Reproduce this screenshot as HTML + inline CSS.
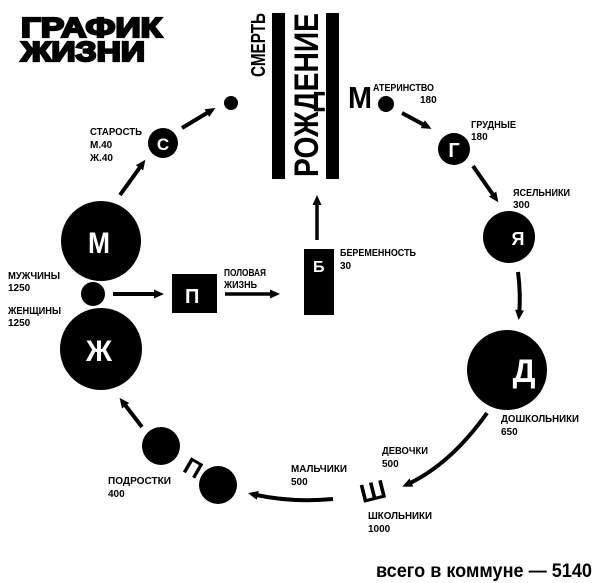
<!DOCTYPE html>
<html><head><meta charset="utf-8"><style>
html,body{margin:0;padding:0;background:#fff;}
svg{display:block;}
text{font-family:"Liberation Sans","DejaVu Sans",sans-serif;font-weight:bold;fill:#000;}
.l{font-size:10px;}
.w{fill:#fff;}
</style></head><body>
<svg width="600" height="583" viewBox="0 0 600 583" xmlns="http://www.w3.org/2000/svg">
<defs>
<marker id="a" markerWidth="10" markerHeight="10" refX="6" refY="5" orient="auto" markerUnits="userSpaceOnUse" viewBox="0 0 10 10">
<path d="M0,0.5 L10,5 L0,9.5 Z" fill="#000"/>
</marker>
</defs>

<!-- title -->
<text x="21" y="37" font-size="28" font-weight="900" textLength="141" lengthAdjust="spacingAndGlyphs" stroke="#000" stroke-width="2.2">ГРАФИК</text>
<text x="21" y="61" font-size="28" font-weight="900" textLength="124" lengthAdjust="spacingAndGlyphs" stroke="#000" stroke-width="2.2">ЖИЗНИ</text>

<!-- bars -->
<rect x="272" y="13" width="13" height="166" fill="#000"/>
<rect x="326" y="13" width="13" height="166" fill="#000"/>
<text transform="translate(318,177) rotate(-90)" font-size="34" textLength="164" lengthAdjust="spacingAndGlyphs">РОЖДЕНИЕ</text>
<text transform="translate(265,77) rotate(-90)" font-size="20" textLength="64" lengthAdjust="spacingAndGlyphs">СМЕРТЬ</text>

<circle cx="231" cy="103" r="7"/>
<line x1="182" y1="128" x2="212" y2="110" stroke="#000" stroke-width="4" marker-end="url(#a)"/>
<circle cx="163" cy="143" r="15"/>
<text x="163" y="150" font-size="17" class="w" text-anchor="middle">С</text>
<text x="90" y="135" class="l" textLength="52" lengthAdjust="spacingAndGlyphs">СТАРОСТЬ</text>
<text x="90" y="148" class="l">М.40</text>
<text x="90" y="161" class="l">Ж.40</text>
<line x1="120" y1="195" x2="143" y2="163" stroke="#000" stroke-width="4" marker-end="url(#a)"/>

<text x="348" y="108" font-size="31" textLength="24" lengthAdjust="spacingAndGlyphs">М</text>
<circle cx="386" cy="104" r="8"/>
<text x="373" y="91" class="l" textLength="61" lengthAdjust="spacingAndGlyphs">АТЕРИНСТВО</text>
<text x="420" y="103" class="l">180</text>
<line x1="402" y1="113" x2="428" y2="127" stroke="#000" stroke-width="4" marker-end="url(#a)"/>

<circle cx="454" cy="149" r="16"/>
<text x="454" y="157" font-size="20" class="w" text-anchor="middle">Г</text>
<text x="471" y="128" class="l" textLength="45" lengthAdjust="spacingAndGlyphs">ГРУДНЫЕ</text>
<text x="471" y="140" class="l">180</text>
<line x1="473" y1="166" x2="496" y2="199" stroke="#000" stroke-width="4" marker-end="url(#a)"/>

<text x="513" y="196" class="l" textLength="57" lengthAdjust="spacingAndGlyphs">ЯСЕЛЬНИКИ</text>
<text x="513" y="208" class="l">300</text>
<circle cx="509" cy="237" r="26"/>
<text x="518" y="245" font-size="18" class="w" text-anchor="middle">Я</text>
<path d="M518,272 Q521,295 519,316" fill="none" stroke="#000" stroke-width="4" marker-end="url(#a)"/>

<circle cx="507" cy="370" r="40"/>
<text x="524" y="382" font-size="32" class="w" text-anchor="middle">Д</text>
<text x="501" y="422" class="l" textLength="78" lengthAdjust="spacingAndGlyphs">ДОШКОЛЬНИКИ</text>
<text x="501" y="435" class="l">650</text>
<path d="M487,413 Q450,465 406,485" fill="none" stroke="#000" stroke-width="4" marker-end="url(#a)"/>

<text x="382" y="454" class="l" textLength="46" lengthAdjust="spacingAndGlyphs">ДЕВОЧКИ</text>
<text x="382" y="467" class="l">500</text>
<text transform="translate(375,500) rotate(-14)" font-size="26" text-anchor="middle">Ш</text>
<text x="368" y="519" class="l" textLength="64" lengthAdjust="spacingAndGlyphs">ШКОЛЬНИКИ</text>
<text x="368" y="532" class="l">1000</text>

<text x="291" y="472" class="l" textLength="56" lengthAdjust="spacingAndGlyphs">МАЛЬЧИКИ</text>
<text x="291" y="485" class="l">500</text>
<path d="M333,499 Q290,503 252,494" fill="none" stroke="#000" stroke-width="4" marker-end="url(#a)"/>

<circle cx="218" cy="485" r="19"/>
<circle cx="161" cy="446" r="19"/>
<text transform="translate(189,475) rotate(30)" font-size="24" text-anchor="middle">П</text>
<text x="108" y="484" class="l" textLength="63" lengthAdjust="spacingAndGlyphs">ПОДРОСТКИ</text>
<text x="108" y="497" class="l">400</text>
<line x1="142" y1="427" x2="122" y2="401" stroke="#000" stroke-width="4" marker-end="url(#a)"/>

<circle cx="101" cy="241" r="40"/>
<text x="88" y="253" font-size="30" class="w" textLength="22" lengthAdjust="spacingAndGlyphs">М</text>
<circle cx="101" cy="349" r="41"/>
<text x="86" y="361" font-size="30" class="w" textLength="26" lengthAdjust="spacingAndGlyphs">Ж</text>
<circle cx="93" cy="294" r="12"/>
<text x="8" y="279" class="l" textLength="52" lengthAdjust="spacingAndGlyphs">МУЖЧИНЫ</text>
<text x="8" y="291" class="l">1250</text>
<text x="8" y="314" class="l" textLength="53" lengthAdjust="spacingAndGlyphs">ЖЕНЩИНЫ</text>
<text x="8" y="326" class="l">1250</text>

<line x1="113" y1="294" x2="160" y2="294" stroke="#000" stroke-width="4" marker-end="url(#a)"/>
<rect x="172" y="274" width="45" height="39" fill="#000"/>
<text x="185" y="303" font-size="20" class="w">П</text>
<text x="224" y="276" class="l" textLength="42" lengthAdjust="spacingAndGlyphs">ПОЛОВАЯ</text>
<text x="224" y="288" class="l" textLength="33" lengthAdjust="spacingAndGlyphs">ЖИЗНЬ</text>
<line x1="225" y1="294" x2="276" y2="294" stroke="#000" stroke-width="3.5" marker-end="url(#a)"/>

<rect x="304" y="249" width="30" height="66" fill="#000"/>
<text x="313" y="272" font-size="16" class="w">Б</text>
<text x="340" y="256" class="l" textLength="76" lengthAdjust="spacingAndGlyphs">БЕРЕМЕННОСТЬ</text>
<text x="340" y="269" class="l">30</text>
<line x1="317" y1="240" x2="317" y2="199" stroke="#000" stroke-width="3.5" marker-end="url(#a)"/>

<text x="376" y="577" font-size="19" textLength="216" lengthAdjust="spacingAndGlyphs">всего в коммуне — 5140</text>
</svg>
</body></html>
